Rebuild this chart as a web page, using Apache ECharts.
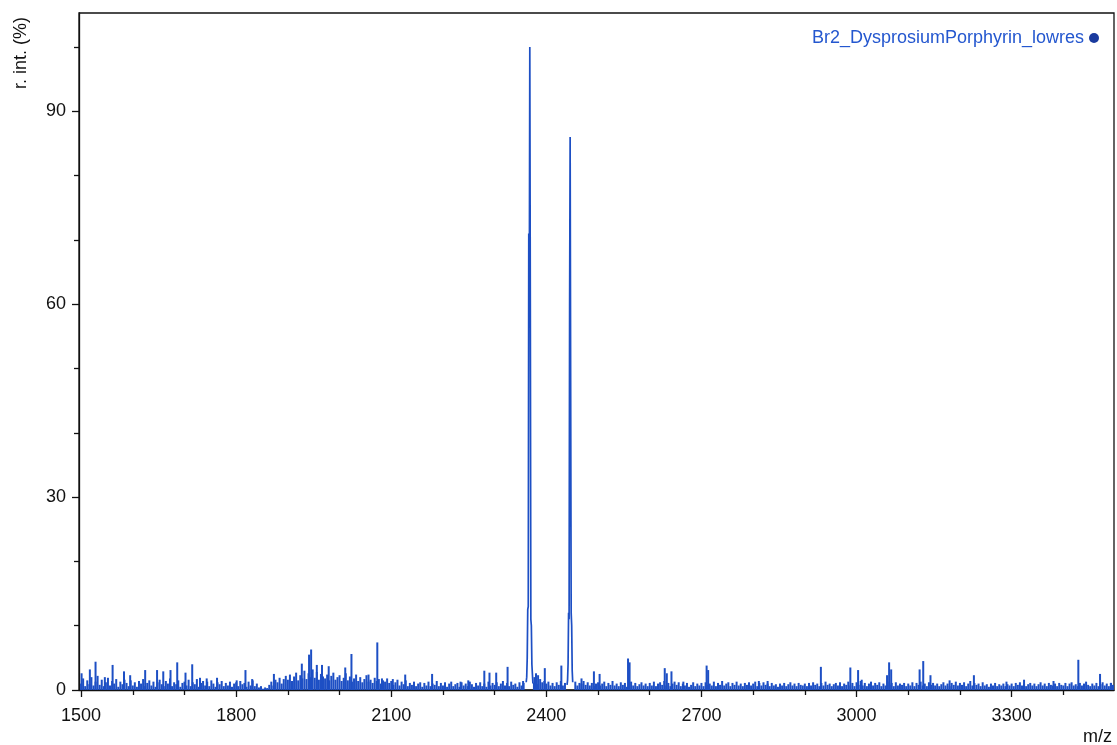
<!DOCTYPE html>
<html>
<head>
<meta charset="utf-8">
<script src="https://cdn.jsdelivr.net/npm/echarts@6/dist/echarts.min.js"></script>
<style>
html, body { margin: 0; padding: 0; background: #ffffff; }
#chart { width: 1117px; height: 745px; }
</style>
</head>
<body>
<div id="chart"></div>
<script>
// Mass spectrum: relative intensity (%) versus m/z
const seriesName = 'Br2_DysprosiumPorphyrin_lowres';

// Baseline noise sampled every 4 m/z units, starting at m/z 1500
const mzStart = 1500;
const mzStep = 4;
const baseline = [
  1.0,1.8,0.6,1.5,0.9,2.0,0.7,1.3,2.2,0.8,1.6,0.6,1.2,1.9,0.7,1.4,1.0,1.7,0.5,1.3,0.9,1.6,1.1,0.6,1.5,
  0.7,1.2,0.5,1.4,1.0,1.7,0.6,1.1,1.5,0.7,1.3,0.5,1.2,1.6,0.9,0.6,1.4,1.0,1.8,0.6,1.2,0.9,1.5,0.5,1.1,
  1.3,0.7,1.6,0.6,1.2,0.9,1.7,0.5,1.1,1.4,0.7,1.3,0.6,1.5,1.0,0.5,1.2,0.9,1.4,0.6,1.1,0.7,1.3,0.5,1.0,
  1.2,0.6,1.4,0.9,1.1,0.5,1.3,0.7,1.5,0.6,1.0,0.4,0.6,0.2,0.4,0.3,0.8,1.3,0.7,1.6,1.2,1.9,1.0,1.7,2.2,
  1.6,2.4,1.4,2.1,2.7,1.5,2.3,1.8,3.0,1.7,2.6,2.0,3.2,1.9,2.8,1.6,2.5,2.1,1.8,2.4,1.5,2.2,2.7,1.6,2.0,
  2.3,1.4,1.9,2.6,1.5,2.1,1.3,1.8,2.4,1.4,2.0,1.2,1.7,2.3,1.3,1.6,1.1,1.9,1.4,1.7,1.0,1.5,1.3,1.8,1.1,
  1.4,0.8,1.2,1.6,0.7,1.3,0.9,1.5,0.6,1.1,0.8,1.3,0.6,1.0,1.2,0.5,1.1,0.7,1.3,0.6,1.0,0.8,1.4,0.6,1.1,
  0.7,1.2,0.5,1.0,1.3,0.6,0.9,1.1,0.5,1.2,0.7,1.0,0.6,1.3,0.9,0.5,1.1,0.7,1.2,0.6,1.0,0.5,1.3,0.7,1.1,
  0.8,1.2,0.6,1.0,1.4,0.7,1.1,0.6,1.3,0.8,1.0,0.5,1.2,0.7,1.1,0.6,1.0,1.3,0.7,1.1,1.5,0.9,1.7,1.2,1.4,
  1.0,1.3,0.7,1.1,0.6,1.2,0.8,1.4,0.7,1.1,1.0,0.6,1.2,0.8,1.3,0.7,1.1,1.0,1.4,0.8,1.2,0.7,1.1,0.6,1.0,
  1.2,0.7,1.0,1.3,0.6,1.1,0.8,1.4,0.7,1.0,0.6,1.2,0.8,1.1,0.5,1.0,1.3,0.7,1.1,0.6,0.9,1.2,0.7,1.0,0.6,
  1.1,0.7,1.3,0.6,1.0,1.2,0.8,1.4,0.7,1.1,0.6,1.0,1.3,0.8,1.2,0.6,1.0,0.7,1.1,0.5,0.8,1.2,0.6,1.0,0.7,
  1.1,0.6,1.2,0.8,1.0,0.7,1.3,0.6,1.1,0.8,1.4,0.7,1.0,1.2,0.6,1.1,0.8,1.3,0.7,1.0,0.6,1.1,0.8,1.2,0.7,
  1.0,1.3,0.6,1.1,0.7,1.2,0.8,1.0,0.6,1.1,0.7,0.9,0.5,1.0,0.7,1.1,0.6,0.9,1.2,0.7,1.0,0.6,1.1,0.8,0.7,
  1.0,0.6,1.1,0.7,1.2,0.8,1.0,0.6,1.1,0.7,1.3,0.8,1.0,0.6,0.9,1.1,0.7,1.2,0.6,1.0,0.8,1.3,0.7,1.1,0.6,
  1.2,0.8,1.4,0.7,1.1,0.6,1.0,1.3,0.7,1.1,0.8,1.2,0.6,1.0,0.7,1.3,0.8,1.1,0.6,1.2,0.7,1.0,0.8,1.1,0.6,
  1.0,0.7,1.2,0.6,1.1,0.8,1.3,0.7,1.0,0.6,1.2,0.8,1.1,0.7,1.0,0.6,0.9,1.2,0.7,1.0,0.6,1.1,0.8,1.3,0.7,
  1.1,0.8,1.2,0.6,1.0,1.4,0.7,1.1,0.8,1.0,0.6,1.2,0.7,0.9,0.5,1.0,0.7,1.1,0.6,0.9,0.7,1.0,0.6,0.9,0.7,
  1.0,0.6,1.1,0.8,1.2,0.7,1.0,0.6,0.9,1.1,0.7,1.0,0.6,0.9,1.2,0.7,1.0,0.6,1.1,0.8,0.7,1.0,0.6,1.1,0.8,
  0.7,1.1,0.6,1.0,1.2,0.7,0.9,0.6,1.1,0.7,1.0,1.3,0.8,0.6,1.0,0.7,1.1,0.6,0.9,1.2,0.7,1.0,0.6,1.1,0.8
];

// Isolated noise spikes: [m/z, intensity %]
const spikes = [
  [1501,2.6],[1517,3.2],[1528,4.4],[1546,2.0],[1561,3.9],[1583,2.9],[1595,2.3],
  [1624,3.1],[1647,3.1],[1659,2.9],[1673,3.1],[1686,4.3],[1702,2.7],[1715,4.0],
  [1730,1.9],[1743,1.8],[1763,1.9],[1801,1.5],[1818,3.1],[1831,1.7],[1873,2.5],
  [1927,4.1],[1941,5.5],[1945,6.3],[1956,3.9],[1966,3.9],[1979,3.7],[2011,3.5],
  [2023,5.6],[2056,2.4],[2073,7.4],[2082,1.8],[2103,1.7],[2127,2.4],[2179,2.5],
  [2234,1.3],[2249,1.5],[2280,3.0],[2290,2.7],[2303,2.7],[2325,3.6],[2355,1.4],
  [2377,2.0],[2380,2.6],[2384,2.3],[2397,3.4],[2429,3.8],[2468,1.8],[2492,2.9],
  [2503,2.5],[2558,4.9],[2561,4.3],[2629,3.4],[2633,2.6],[2642,2.9],[2665,1.3],
  [2710,3.8],[2713,3.1],[2811,1.4],[2828,1.4],[2931,3.6],[2988,3.5],[3003,3.1],
  [3010,1.6],[3059,2.3],[3063,4.3],[3067,3.2],[3122,3.2],[3129,4.5],[3143,2.3],
  [3180,1.5],[3227,2.3],[3290,1.3],[3324,1.6],[3381,1.4],[3429,4.7],[3471,2.5],
  [3492,1.1]
];

// Isotope clusters of the two main ions: [m/z, intensity %]
const peakA = [
  [2361,1.2],[2362,2.0],[2363,5.0],[2364,12.5],[2365,13.0],[2366,71.0],[2367,60.0],[2368,100.0],
  [2369,60.0],[2370,11.0],[2371,10.0],[2372,4.0],[2373,2.5],[2374,1.0]
];
const peakB = [
  [2440,0.8],[2441,1.5],[2442,4.0],[2443,12.0],[2444,11.0],[2445,60.0],[2446,86.0],[2447,48.0],
  [2448,12.0],[2449,10.0],[2450,3.0],[2451,1.2]
];

const xRange = [1496, 3498];
const yRange = [0, 105.3];
const xMajorTicks = [1500, 1800, 2100, 2400, 2700, 3000, 3300];
const xMinorTicks = [1600, 1700, 1900, 2000, 2200, 2300, 2500, 2600, 2800, 2900, 3100, 3200, 3400];
const yMajorTicks = [0, 30, 60, 90];
const yMinorTicks = [10, 20, 40, 50, 70, 80, 100];

// Stick data: baseline samples outside the isotope clusters, plus the spikes
const clusters = [peakA, peakB];
const clusterSpans = clusters.map(c => [c[0][0] - 1, c[c.length - 1][0] + 1]);
const sticks = [];
baseline.forEach((v, i) => {
  const mz = mzStart + i * mzStep;
  if (!clusterSpans.some(([a, b]) => mz >= a && mz <= b)) sticks.push([mz, v]);
});
spikes.forEach(p => sticks.push(p));
sticks.sort((a, b) => a[0] - b[0]);

const lineColor = '#1d4fc4';
const axisColor = '#111111';
const fontFamily = '"Liberation Sans", Arial, sans-serif';
const plainNumber = v => String(v);

const chart = echarts.init(document.getElementById('chart'), null, { renderer: 'canvas' });

const gridRect = { left: 79, top: 13, right: 3, bottom: 55 };

chart.setOption({
  animation: false,
  backgroundColor: '#ffffff',
  legend: {
    data: [{ name: seriesName, icon: 'circle', itemStyle: { color: '#1a3a9e' } }],
    right: 13,
    top: 24,
    align: 'right',
    itemWidth: 10,
    itemHeight: 10,
    textStyle: { color: '#2457cf', fontSize: 18, fontFamily: fontFamily }
  },
  grid: [
    Object.assign({ show: true, borderColor: axisColor, borderWidth: 1.3, backgroundColor: 'transparent' }, gridRect),
    Object.assign({ show: false }, gridRect)
  ],
  xAxis: [
    {
      type: 'value', gridIndex: 0, min: xRange[0], max: xRange[1],
      axisLine: { show: true, onZero: false, lineStyle: { color: axisColor, width: 1.3 } },
      axisTick: { show: true, length: 7, customValues: xMajorTicks, lineStyle: { color: axisColor, width: 1.3 } },
      axisLabel: { show: true, customValues: xMajorTicks, formatter: plainNumber, margin: 17, color: '#111', fontSize: 18, fontFamily: fontFamily },
      splitLine: { show: false }
    },
    {
      type: 'value', gridIndex: 1, min: xRange[0], max: xRange[1],
      axisLine: { show: false },
      axisTick: { show: true, length: 5, customValues: xMinorTicks, lineStyle: { color: axisColor, width: 1.3 } },
      axisLabel: { show: false },
      splitLine: { show: false }
    }
  ],
  yAxis: [
    {
      type: 'value', gridIndex: 0, min: yRange[0], max: yRange[1],
      axisLine: { show: true, onZero: false, lineStyle: { color: axisColor, width: 1.3 } },
      axisTick: { show: true, length: 7, customValues: yMajorTicks, lineStyle: { color: axisColor, width: 1.3 } },
      axisLabel: { show: true, customValues: yMajorTicks, formatter: plainNumber, margin: 13, color: '#111', fontSize: 18, fontFamily: fontFamily },
      splitLine: { show: false }
    },
    {
      type: 'value', gridIndex: 1, min: yRange[0], max: yRange[1],
      axisLine: { show: false },
      axisTick: { show: true, length: 5, customValues: yMinorTicks, lineStyle: { color: axisColor, width: 1.3 } },
      axisLabel: { show: false },
      splitLine: { show: false }
    }
  ],
  series: [
    {
      name: seriesName,
      type: 'bar',
      xAxisIndex: 0,
      yAxisIndex: 0,
      data: sticks,
      barWidth: 2,
      itemStyle: { color: lineColor },
      z: 3
    },
    {
      name: seriesName,
      type: 'line',
      xAxisIndex: 0,
      yAxisIndex: 0,
      data: peakA,
      showSymbol: false,
      symbol: 'none',
      lineStyle: { color: lineColor, width: 1.7 },
      itemStyle: { color: lineColor },
      z: 4
    },
    {
      name: seriesName,
      type: 'line',
      xAxisIndex: 0,
      yAxisIndex: 0,
      data: peakB,
      showSymbol: false,
      symbol: 'none',
      lineStyle: { color: lineColor, width: 1.7 },
      itemStyle: { color: lineColor },
      z: 4
    }
  ],
  graphic: [
    {
      type: 'text',
      x: 21, y: 53,
      rotation: Math.PI / 2,
      style: {
        text: 'r. int. (%)',
        fill: '#111',
        font: '18px ' + fontFamily,
        align: 'center',
        verticalAlign: 'middle'
      }
    },
    {
      type: 'text',
      x: 1112, y: 737,
      style: {
        text: 'm/z',
        fill: '#111',
        font: '18px ' + fontFamily,
        align: 'right',
        verticalAlign: 'middle'
      }
    }
  ]
});
</script>
</body>
</html>
